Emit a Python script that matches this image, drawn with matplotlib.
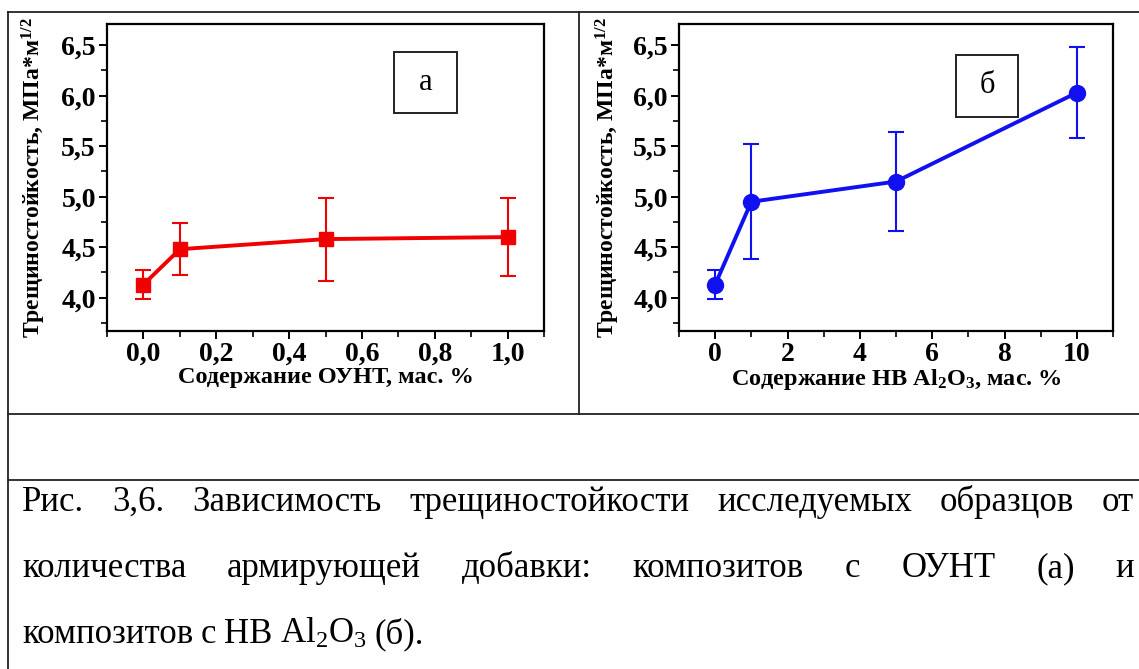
import matplotlib
matplotlib.use("Agg")
import matplotlib.pyplot as plt
from matplotlib.lines import Line2D
from matplotlib.patches import Rectangle
from matplotlib.ticker import MultipleLocator, FuncFormatter

plt.rcParams['font.family'] = ['Liberation Serif', 'DejaVu Serif']
plt.rcParams['mathtext.default'] = 'regular'

# данные (а) - ОУНТ
x_a = [0.0, 0.1, 0.5, 1.0]
y_a = [4.13, 4.48, 4.58, 4.60]
err_a = [0.14, 0.26, 0.41, 0.39]

# данные (б) - НВ Al2O3
x_b = [0, 1, 5, 10]
y_b = [4.13, 4.95, 5.15, 6.03]
err_b = [0.14, 0.57, 0.49, 0.45]

ylabel = 'Трещиностойкость, МПа*м$^{1/2}$'
xlabel_a = 'Содержание ОУНТ, мас. %'
xlabel_b = 'Содержание НВ Al$_2$O$_3$, мас. %'

caption = [
    "Рис. 3,6. Зависимость трещиностойкости исследуемых образцов от",
    "количества армирующей добавки: композитов с ОУНТ (а) и",
    "композитов с НВ Al$_2$O$_3$ (б).",
]

W, H = 1139, 669
fig = plt.figure(figsize=(W / 100, H / 100), dpi=100)

def px(x, y):
    return x / W, 1 - y / H

# рамки таблицы
def hline(y, x0=8, x1=W):
    fig.add_artist(Line2D([x0 / W, x1 / W], [1 - y / H, 1 - y / H], color='#222222', lw=1.3))

def vline(x, y0, y1):
    fig.add_artist(Line2D([x / W, x / W], [1 - y0 / H, 1 - y1 / H], color='#222222', lw=1.3))

hline(12)
hline(414)
hline(480)
vline(8, 12, H)
vline(579, 12, 414)

comma = FuncFormatter(lambda v, p: f"{v:.1f}".replace('.', ','))

def setup(ax, xlim, xmaj, xmin, xfmt):
    ax.set_ylim(3.67, 6.71)
    ax.set_xlim(*xlim)
    ax.yaxis.set_major_locator(MultipleLocator(0.5))
    ax.yaxis.set_minor_locator(MultipleLocator(0.25))
    ax.xaxis.set_major_locator(MultipleLocator(xmaj))
    ax.xaxis.set_minor_locator(MultipleLocator(xmin))
    ax.yaxis.set_major_formatter(comma)
    ax.xaxis.set_major_formatter(xfmt)
    ax.tick_params(which='major', direction='out', length=6, width=1.4,
                   labelsize=20, pad=2)
    ax.tick_params(which='minor', direction='out', length=4, width=1.2)
    for lab in ax.get_xticklabels() + ax.get_yticklabels():
        lab.set_fontweight('bold')
    for s in ax.spines.values():
        s.set_linewidth(1.6)

# панель (а)
x0, y1 = px(107, 24)
x1, y0 = px(544, 331)
ax1 = fig.add_axes([x0, y0, x1 - x0, y1 - y0])
ax1.errorbar(x_a, y_a, yerr=err_a, color='#f00000', lw=2.8, marker='s', ms=10.5,
             elinewidth=1.5, capsize=6, capthick=1.5)
setup(ax1, (-0.1, 1.1), 0.2, 0.1, comma)
ax1.set_xlabel(xlabel_a, fontsize=17.5, fontweight='bold', labelpad=0)
ax1.set_ylabel(ylabel, fontsize=17, fontweight='bold')
ax1.yaxis.set_label_coords(-0.135, 0.5)
ax1.add_patch(Rectangle((0.657, 0.71), 0.144, 0.199, transform=ax1.transAxes,
                        fill=False, lw=1.4, ec='#222222'))
ax1.text(0.729, 0.81, 'а', transform=ax1.transAxes, fontsize=22,
         ha='center', va='center')

# панель (б)
x0, y1 = px(679, 24)
x1, y0 = px(1113, 331)
ax2 = fig.add_axes([x0, y0, x1 - x0, y1 - y0])
ax2.errorbar(x_b, y_b, yerr=err_b, color='#1010f0', lw=2.8, marker='o', ms=11.5,
             elinewidth=1.5, capsize=6, capthick=1.5)
setup(ax2, (-1, 11), 2, 1, FuncFormatter(lambda v, p: f"{v:.0f}"))
ax2.set_xlabel(xlabel_b, fontsize=17.5, fontweight='bold', labelpad=0)
ax2.set_ylabel(ylabel, fontsize=17, fontweight='bold')
ax2.yaxis.set_label_coords(-0.132, 0.5)
ax2.add_patch(Rectangle((0.638, 0.697), 0.143, 0.202, transform=ax2.transAxes,
                        fill=False, lw=1.4, ec='#222222'))
ax2.text(0.71, 0.80, 'б', transform=ax2.transAxes, fontsize=22,
         ha='center', va='center')

# подпись: первые две строки по ширине, последняя влево
cap_fs = 25
baselines = [511, 577, 643]
left, right = 22, 1134
space = 0.22 * cap_fs * 100 / 72
fig.canvas.draw()
renderer = fig.canvas.get_renderer()
for i, line in enumerate(caption):
    yb = 1 - baselines[i] / H
    words = line.split(' ')
    texts = [fig.text(0, yb, w, fontsize=cap_fs, va='baseline') for w in words]
    widths = [t.get_window_extent(renderer).width for t in texts]
    if i == len(caption) - 1:
        gap = space
    else:
        gap = (right - left - sum(widths)) / (len(words) - 1)
    xpos = left
    for t, w in zip(texts, widths):
        t.set_x(xpos / W)
        xpos += w + gap

fig.savefig('out.png', dpi=100)
